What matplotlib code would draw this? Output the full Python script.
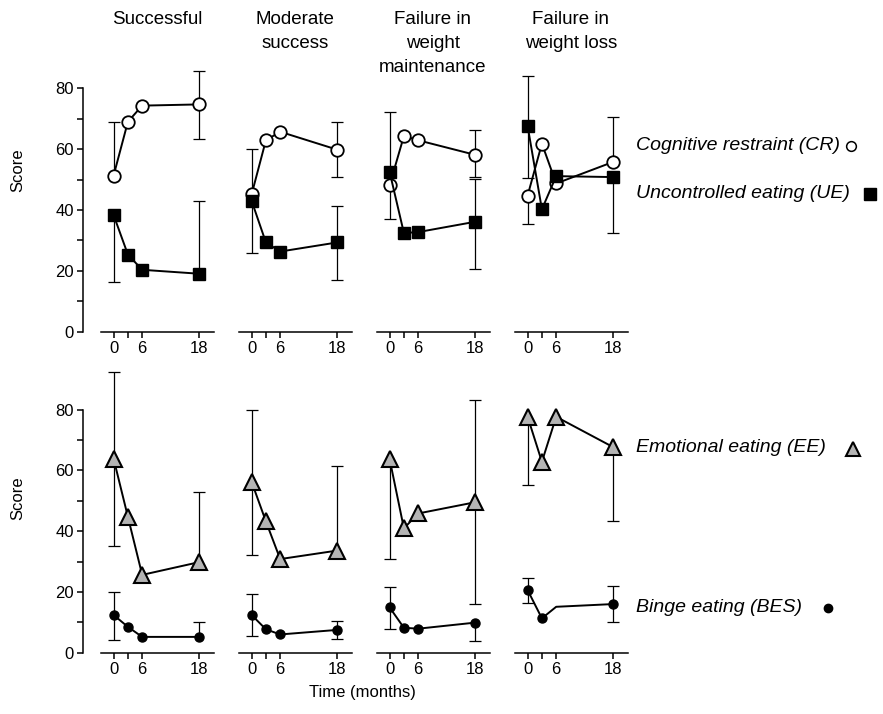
import matplotlib
matplotlib.use("Agg")
import matplotlib.pyplot as plt
from matplotlib.lines import Line2D

plt.rcParams['font.family'] = ['Liberation Sans', 'DejaVu Sans']

# === Data ===
months = [0, 3, 6, 18]
err_months = [0, 18]
groups = ["Successful", "Moderate\nsuccess", "Failure in\nweight\nmaintenance", "Failure in\nweight loss"]

# mean scores, one row per outcome group
cr = [[51.3, 69.0, 74.3, 74.7], [45.1, 62.9, 65.7, 59.8], [48.1, 64.3, 62.9, 58.1], [44.7, 61.8, 48.7, 55.8]]
ue = [[38.3, 25.3, 20.3, 19.0], [43.0, 29.3, 26.3, 29.3], [52.5, 32.4, 32.7, 36.1], [67.6, 40.2, 51.1, 50.8]]
ee = [[63.8, 44.7, 25.6, 29.8], [56.2, 43.2, 30.8, 33.6], [63.7, 40.9, 45.8, 49.5], [77.6, 62.8, 77.6, 67.6]]
bes = [[12.4, 8.5, 5.2, 5.2], [12.4, 7.7, 6.0, 7.5], [14.9, 8.2, 7.9, 9.9], [20.6, 11.3, 15.1, 16.0]]
bes_marked = [[0, 1, 2, 3], [0, 1, 2, 3], [0, 1, 2, 3], [0, 1, 3]]

# whisker ends (lower, upper) at 0 and 18 months, None = not drawn
cr_err = [[(None, 68.8), (63.3, 85.7)], [(None, 59.9), (50.7, 68.8)],
          [(None, 72.1), (50.7, 66.4)], [(35.4, None), (None, 70.7)]]
ue_err = [[(16.2, None), (None, 43.0)], [(25.9, None), (16.9, 41.4)],
          [(37.1, None), (20.7, 50.1)], [(50.5, 84.0), (32.3, None)]]
ee_err = [[(35.2, 92.3), (None, 52.8)], [(32.1, 79.8), (None, 61.4)],
          [(30.9, None), (16.0, 83.0)], [(55.2, None), (43.4, None)]]
bes_err = [[(4.2, 20.0), (None, 10.0)], [(5.5, 19.3), (4.5, 10.3)],
           [(7.9, 21.7), (3.9, None)], [(16.4, 24.5), (10.0, 22.0)]]

W, H = 883, 714
lefts = [101, 239, 377, 515]
row_zero = [331.5, 652.7]   # pixel row of score 0


def draw_err(ax, mean, errs):
    for t, (lo, hi) in zip(err_months, errs):
        m = mean[months.index(t)]
        a = lo if lo is not None else m
        b = hi if hi is not None else m
        ax.vlines(t, a, b, color='black', lw=0.9, zorder=1)
        for end in (lo, hi):
            if end is not None:
                ax.plot([t], [end], ls='none', marker='_', ms=8, mew=0.9,
                        color='black', zorder=1, clip_on=False)


fig = plt.figure(figsize=(W / 100, H / 100), dpi=100)

for row in range(2):
    for col in range(4):
        ax = fig.add_axes([lefts[col] / W, (H - row_zero[row]) / H, 113.3 / W, 95 * 3.04 / H])
        ax.set_xlim(-2.65, 21.15)
        ax.set_ylim(0, 95)
        ax.patch.set_visible(False)
        for s in ['top', 'right']:
            ax.spines[s].set_visible(False)
        ax.spines['bottom'].set_linewidth(1.1)
        ax.spines['left'].set_linewidth(1.1)
        ax.set_xticks(months)
        ax.set_xticklabels(['0', '', '6', '18'])
        ax.tick_params(direction='out', length=4.5, width=1.1, labelsize=12, pad=2.5)
        ax.tick_params(which='minor', direction='out', length=4.5, width=1.1)
        if col == 0:
            ax.spines['left'].set_position(('outward', 12.7))
            ax.spines['left'].set_bounds(0, 80)
            ax.set_yticks([0, 20, 40, 60, 80])
            ax.set_yticks([10, 30, 50, 70], minor=True)
        else:
            ax.spines['left'].set_visible(False)
            ax.set_yticks([])

        if row == 0:
            draw_err(ax, cr[col], cr_err[col])
            draw_err(ax, ue[col], ue_err[col])
            ax.plot(months, cr[col], color='black', lw=1.4, marker='o', ms=9,
                    mfc='white', mec='black', mew=1.3, zorder=3, clip_on=False)
            ax.plot(months, ue[col], color='black', lw=1.4, marker='s', ms=8.5,
                    mfc='black', mec='black', zorder=4, clip_on=False)
            fig.text((lefts[col] + 56) / W, 1 - 11 / H, groups[col], ha='center', va='top',
                     fontsize=13.5, linespacing=1.55)
        else:
            draw_err(ax, ee[col], ee_err[col])
            draw_err(ax, bes[col], bes_err[col])
            ax.plot(months, ee[col], color='black', lw=1.4, marker='^', ms=11,
                    mfc='#b4b4b4', mec='black', mew=1.5, zorder=3, clip_on=False)
            ax.plot(months, bes[col], color='black', lw=1.4, marker='o', ms=6.5,
                    markevery=bes_marked[col], mfc='black', mec='black', zorder=4, clip_on=False)

# axis titles
fig.text(18 / W, 1 - 170 / H, "Score", rotation=90, ha='center', va='center', fontsize=12)
fig.text(18 / W, 1 - 498 / H, "Score", rotation=90, ha='center', va='center', fontsize=12)
fig.text(362 / W, 1 - 693 / H, "Time (months)", ha='center', va='center', fontsize=12)

# legend texts with their markers
legend_items = [
    ("Cognitive restraint (CR)", 145, 851, dict(marker='o', ms=7, mfc='white', mec='black', mew=1.1)),
    ("Uncontrolled eating (UE)", 193, 870, dict(marker='s', ms=9, mfc='black', mec='black')),
    ("Emotional eating (EE)", 448, 853, dict(marker='^', ms=10, mfc='#b4b4b4', mec='black', mew=1.5)),
    ("Binge eating (BES)", 607, 828, dict(marker='o', ms=6, mfc='black', mec='black')),
]
for label, ypx, mx, style in legend_items:
    fig.text(636 / W, 1 - ypx / H, label, style='italic', fontsize=14, va='center')
    fig.add_artist(Line2D([mx / W], [1 - (ypx + 1) / H], transform=fig.transFigure, ls='none', **style))

fig.savefig("out.png", dpi=100)
